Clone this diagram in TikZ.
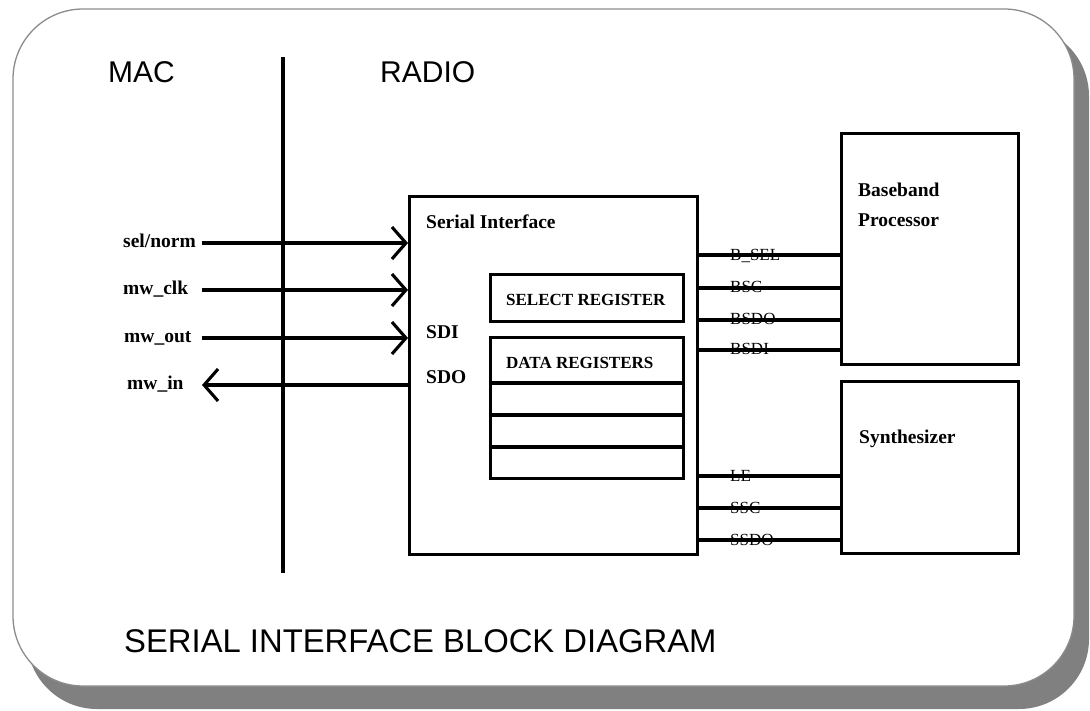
\documentclass[tikz,border=0pt]{standalone}
\usepackage{fontspec}
\setmainfont{Liberation Serif}
\newfontfamily\hv{Liberation Sans}
\usetikzlibrary{arrows.meta}

\begin{document}
\begin{tikzpicture}[x=1pt,y=-1pt,
  wire/.style={line width=3.1pt},
  box/.style={draw, line width=3.2pt, inner sep=0pt, anchor=north west},
  sig/.style={wire, -{Straight Barb[length=14pt,width=32pt]}},
  lbl/.style={font=\bfseries\fontsize{19.5}{22}\selectfont, inner sep=0pt, anchor=base west},
  reg/.style={font=\bfseries\fontsize{17}{20}\selectfont, inner sep=0pt, anchor=base west},
  bus/.style={font=\fontsize{17}{20}\selectfont, inner sep=0pt, anchor=base west},
  head/.style={font=\hv\fontsize{30}{34}\selectfont, inner sep=0pt, anchor=base west},
]
\useasboundingbox (0,0) rectangle (1090,711);

% card with drop shadow
\fill[black!50, rounded corners=70pt] (27,26) rectangle (1089,709);
\draw[fill=white, draw=black!45, line width=1.3pt, rounded corners=70pt] (13,9) rectangle (1074,686);

% headings
\node[head] (mac) at (108,83) {MAC};
\node[head] (radio) at (380,83) {RADIO};
\node[head, font=\hv\fontsize{32.8}{36}\selectfont] (title) at (124,652) {SERIAL INTERFACE BLOCK DIAGRAM};

% MAC / RADIO boundary
\coordinate (dtop) at (283,57);
\coordinate (dbot) at (283,573);
\draw[wire] (dtop) -- (dbot);

% blocks
\node[box, minimum width=288pt, minimum height=358pt] (si) at (408,195) {};
\node[box, minimum width=193pt, minimum height=47pt] (sel) at (489,273) {};
\node[box, minimum width=193pt, minimum height=141pt] (data) at (489,336) {};
\node[box, minimum width=177pt, minimum height=231pt] (bb) at (840,132) {};
\node[box, minimum width=177pt, minimum height=172pt] (syn) at (840,380) {};

% data register rows
\foreach \yy in {383,415,447}
  \draw[line width=3.1pt] (data.west |- 0,\yy) -- (data.east |- 0,\yy);

% block texts
\node[lbl] (sitxt) at (426,229) {Serial Interface};
\node[reg] (seltxt) at (506,306) {SELECT REGISTER};
\node[reg] (datatxt) at (506,368) {DATA REGISTERS};
\node[lbl] (sdi) at (426,338) {SDI};
\node[lbl] (sdo) at (426,384) {SDO};
\node[lbl] (bb1) at (858,197) {Baseband};
\node[lbl] (bb2) at (858,227) {Processor};
\node[lbl] (syntxt) at (859,443) {Synthesizer};

% MAC side signals
\node[lbl] (selL) at (123,248) {sel/norm};
\node[lbl] (clkL) at (123,295) {mw\_clk};
\node[lbl] (outL) at (124,342) {mw\_out};
\node[lbl] (inL)  at (127,389) {mw\_in};
\coordinate (selS) at (202,243);
\coordinate (clkS) at (202,290);
\coordinate (outS) at (202,338);
\coordinate (inS)  at (202,385);
\draw[sig] (selS) -- (selS -| si.west);
\draw[sig] (clkS) -- (clkS -| si.west);
\draw[sig] (outS) -- (outS -| si.west);
\draw[sig] (inS -| si.west) -- (inS);

% baseband bus
\node[bus] (bselL) at (730,261) {B\_SEL};
\node[bus] (bscL)  at (730,293) {BSC};
\node[bus] (bsdoL) at (730,325) {BSDO};
\node[bus] (bsdiL) at (730,355) {BSDI};
\foreach \nm/\yy in {bsel/255,bsc/288,bsdo/320,bsdi/350}
  \draw[wire] (si.east |- 0,\yy) -- (bb.west |- 0,\yy);

% synthesizer bus
\node[bus] (leL)   at (730,481) {LE};
\node[bus] (sscL)  at (730,513) {SSC};
\node[bus] (ssdoL) at (730,545) {SSDO};
\foreach \nm/\yy in {le/476,ssc/508,ssdo/540}
  \draw[wire] (si.east |- 0,\yy) -- (syn.west |- 0,\yy);
\end{tikzpicture}
\end{document}
